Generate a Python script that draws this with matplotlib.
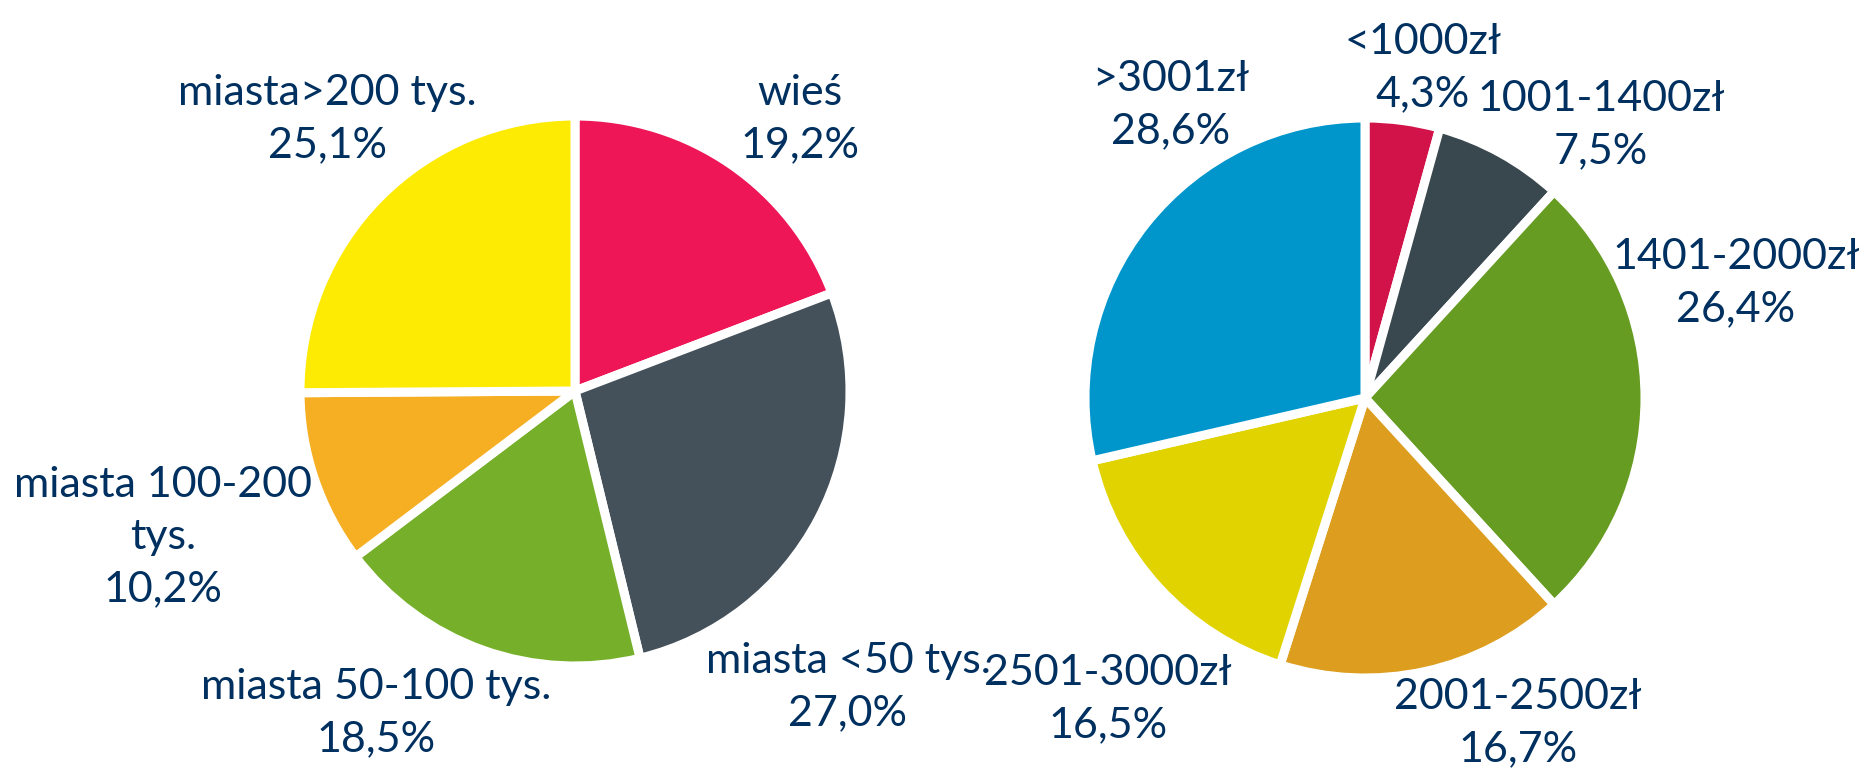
import matplotlib.pyplot as plt

# left pie: place of residence
town_labels = ["wieś", "miasta <50 tys.", "miasta 50-100 tys.", "miasta 100-200\ntys.", "miasta>200 tys."]
town_shares = [19.2, 27.0, 18.5, 10.2, 25.1]
town_colors = ["#EE1657", "#44515B", "#76B02A", "#F6AF23", "#FDEB03"]

# right pie: income
income_labels = ["<1000zł", "1001-1400zł", "1401-2000zł", "2001-2500zł", "2501-3000zł", ">3001zł"]
income_shares = [4.3, 7.5, 26.4, 16.7, 16.5, 28.6]
income_colors = ["#D21349", "#39474F", "#669C22", "#DD9D1F", "#E1D300", "#0096CC"]

W, H = 1864, 777
TEXT = "#00305F"

# label anchor points in pixel coords (y from top)
town_label_pos = [(800, 119), (848, 687), (376, 713), (163, 537), (327, 119)]
income_label_pos = [(1423, 68), (1601, 125), (1736, 283), (1518, 723), (1108, 699), (1171, 105)]

plt.rcParams["font.family"] = ["Lato", "DejaVu Sans"]

fig = plt.figure(figsize=(W / 100, H / 100), dpi=100)
ax = fig.add_axes([0, 0, 1, 1])


def draw(shares, colors, labels, positions, center, radius):
    ax.pie(shares, colors=colors, startangle=90, counterclock=False,
           center=(center[0], H - center[1]), radius=radius,
           wedgeprops=dict(edgecolor="white", linewidth=6.5), frame=True)
    for lab, val, (x, y) in zip(labels, shares, positions):
        pct = f"{val:.1f}%".replace(".", ",")
        ax.text(x, H - y, f"{lab}\n{pct}", ha="center", va="center", multialignment="center",
                fontsize=31, color=TEXT, linespacing=1.45)


draw(town_shares, town_colors, town_labels, town_label_pos, (575, 391), 275)
draw(income_shares, income_colors, income_labels, income_label_pos, (1365, 398), 280)

ax.set_xlim(0, W)
ax.set_ylim(0, H)
ax.set_aspect("equal")
ax.axis("off")
fig.savefig("out.png", dpi=100)
